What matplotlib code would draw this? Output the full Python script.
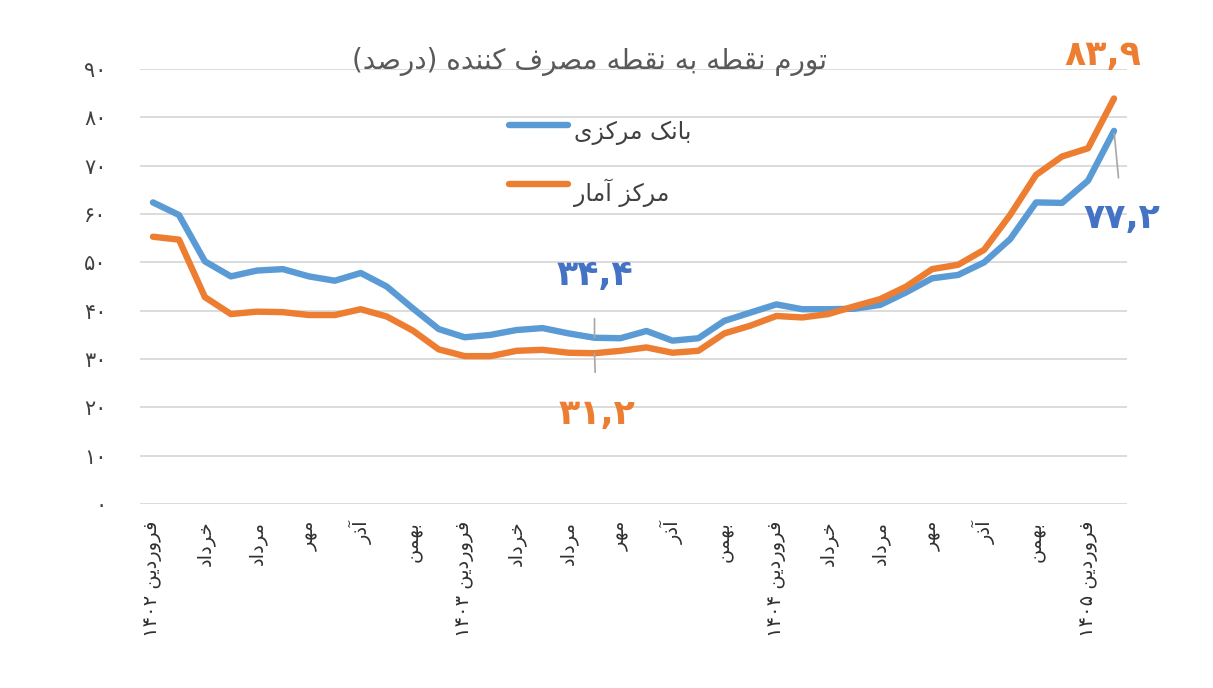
import matplotlib
matplotlib.use("Agg")
import matplotlib.pyplot as plt
from matplotlib.font_manager import findfont, FontProperties
from matplotlib.ft2font import FT2Font

# ---------------- data ----------------
months = ["فروردین ۱۴۰۲", "اردیبهشت", "خرداد", "تیر", "مرداد", "شهریور", "مهر", "آبان", "آذر", "دی", "بهمن", "اسفند",
          "فروردین ۱۴۰۳", "اردیبهشت", "خرداد", "تیر", "مرداد", "شهریور", "مهر", "آبان", "آذر", "دی", "بهمن", "اسفند",
          "فروردین ۱۴۰۴", "اردیبهشت", "خرداد", "تیر", "مرداد", "شهریور", "مهر", "آبان", "آذر", "دی", "بهمن", "اسفند",
          "فروردین ۱۴۰۵", "اردیبهشت"]
bank_markazi = [62.4, 59.8, 50.2, 47.1, 48.3, 48.6, 47.1, 46.2, 47.8, 45.0, 40.5, 36.2,
                34.5, 35.0, 36.0, 36.4, 35.3, 34.4, 34.3, 35.8, 33.8, 34.3, 37.9, 39.6,
                41.3, 40.3, 40.3, 40.4, 41.2, 43.8, 46.7, 47.4, 50.0, 54.8, 62.4, 62.3,
                66.9, 77.2]
markaz_amar = [55.3, 54.7, 42.8, 39.3, 39.8, 39.7, 39.1, 39.1, 40.3, 38.8, 35.9, 32.0,
               30.6, 30.6, 31.7, 31.9, 31.3, 31.2, 31.7, 32.4, 31.3, 31.7, 35.3, 36.9,
               38.9, 38.6, 39.3, 40.9, 42.4, 45.0, 48.6, 49.5, 52.6, 59.8, 68.1, 71.9,
               73.6, 83.9]
series_names = ["بانک مرکزی", "مرکز آمار"]
title = "تورم نقطه به نقطه مصرف کننده (درصد)"
yticks = [0, 10, 20, 30, 40, 50, 60, 70, 80, 90]
label_index = 17
# ----------------------------------------

FONT = "DejaVu Sans"
_ft = FT2Font(findfont(FontProperties(family=FONT)))
def has(ch):
    return _ft.get_char_index(ord(ch)) != 0

FOUR = {'ب': 0xFE8F, 'ت': 0xFE95, 'ث': 0xFE99, 'ج': 0xFE9D, 'ح': 0xFEA1, 'خ': 0xFEA5,
        'س': 0xFEB1, 'ش': 0xFEB5, 'ص': 0xFEB9, 'ض': 0xFEBD, 'ط': 0xFEC1, 'ظ': 0xFEC5,
        'ع': 0xFEC9, 'غ': 0xFECD, 'ف': 0xFED1, 'ق': 0xFED5, 'ل': 0xFEDD, 'م': 0xFEE1,
        'ن': 0xFEE5, 'ه': 0xFEE9, 'ي': 0xFEF1, 'ك': 0xFED9,
        'پ': 0xFB56, 'چ': 0xFB7A, 'ک': 0xFB8E, 'گ': 0xFB92, 'ی': 0xFBFC}
TWO = {'ا': 0xFE8D, 'آ': 0xFE81, 'د': 0xFEA9, 'ذ': 0xFEAB, 'ر': 0xFEAD, 'ز': 0xFEAF,
       'و': 0xFEED, 'ژ': 0xFB8A}
FORMS = {}
for k, b in FOUR.items():
    FORMS[k] = tuple(chr(b + i) for i in range(4))
for k, b in TWO.items():
    FORMS[k] = (chr(b), chr(b + 1), None, None)
# fallbacks
if not all(has(c) for c in FORMS['ی']):
    FORMS['ی'] = ('\uFEEF', '\uFEF0', '\uFEF3', '\uFEF4')
if not all(has(c) for c in FORMS['ک']):
    FORMS['ک'] = FORMS['ك']
NONJOIN = set(TWO.keys())

def shape_word(w):
    out = []
    for i, ch in enumerate(w):
        if ch not in FORMS:
            out.append(ch)
            continue
        prev = w[i - 1] if i > 0 else None
        nxt = w[i + 1] if i + 1 < len(w) else None
        jp = prev in FORMS and prev not in NONJOIN
        jn = nxt in FORMS and ch not in NONJOIN
        iso, fin, ini, med = FORMS[ch]
        out.append(med if jp and jn else fin if jp else ini if jn else iso)
    return ''.join(out)

def fa(text):
    toks = []
    for t in text.split(' '):
        if any(c in FORMS for c in t):
            s = shape_word(t)[::-1]
            s = s.translate(str.maketrans('()', ')('))
            toks.append(s)
        else:
            toks.append(t)
    return ' '.join(toks[::-1])

def fa_num(v):
    s = f"{v:.1f}".replace('.', ',')
    return s.translate(str.maketrans('0123456789', '۰۱۲۳۴۵۶۷۸۹'))

def fa_int(v):
    return str(v).translate(str.maketrans('0123456789', '۰۱۲۳۴۵۶۷۸۹'))

plt.rcParams['font.family'] = [FONT]

BLUE = '#5B9BD5'
ORANGE = '#ED7D31'
BLUE_TXT = '#4472C4'
GRID = '#D9D9D9'

fig = plt.figure(figsize=(12.13, 6.88), dpi=100)
ax = fig.add_axes([0.1154, 0.2674, 0.8137, 0.6323])
x = list(range(len(months)))

ax.plot(x, bank_markazi, color=BLUE, lw=4.6, solid_capstyle='round', solid_joinstyle='round',
        label=fa(series_names[0]), zorder=3)
ax.plot(x, markaz_amar, color=ORANGE, lw=4.6, solid_capstyle='round', solid_joinstyle='round',
        label=fa(series_names[1]), zorder=4)

ax.set_xlim(-0.5, len(months) - 0.5)
ax.set_ylim(0, 90)
ax.set_yticks(yticks)
ax.set_yticklabels([fa_int(v) for v in yticks], fontsize=15, color='#404040')
tick_pos = x[::2]
ax.set_xticks(tick_pos)
ax.set_xticklabels([fa(months[i]) for i in tick_pos], rotation=90, fontsize=14,
                   color='#303030', va='top', ha='center')
ax.tick_params(axis='y', length=0, pad=24)
ax.tick_params(axis='x', length=0, pad=12)
for s in ax.spines.values():
    s.set_visible(False)
ax.grid(axis='y', color=GRID, lw=1.3)
ax.set_axisbelow(True)

leg = ax.legend(loc='upper left', bbox_to_anchor=(0.352, 0.945), frameon=False, fontsize=17,
                handlelength=2.5, handletextpad=0.25, labelspacing=1.3, labelcolor='#404040')
for t in leg.get_texts():
    t.set_va('center')

fig.text(590 / 1213, 1 - 61 / 688, fa(title), ha='center', va='center', fontsize=20, color='#595959')

lead = dict(arrowstyle='-', color='#A6A6A6', lw=1.2)
last = len(months) - 1
ax.annotate(fa_num(markaz_amar[last]), xy=(last, markaz_amar[last]), xytext=(-8, 31),
            textcoords='offset points', ha='center', va='center', fontsize=25, fontweight='bold',
            color=ORANGE, zorder=5)
ax.annotate(fa_num(bank_markazi[last]), xy=(last, bank_markazi[last]), xytext=(6, -63),
            textcoords='offset points', ha='center', va='center', fontsize=25, fontweight='bold',
            color=BLUE_TXT, arrowprops=dict(lead, shrinkA=15, shrinkB=2), zorder=5)
ax.annotate(fa_num(bank_markazi[label_index]), xy=(label_index, bank_markazi[label_index]), xytext=(0, 45),
            textcoords='offset points', ha='center', va='center', fontsize=25, fontweight='bold',
            color=BLUE_TXT, arrowprops=dict(lead, shrinkA=17, shrinkB=0), zorder=5)
ax.annotate(fa_num(markaz_amar[label_index]), xy=(label_index, markaz_amar[label_index]), xytext=(1.5, -44),
            textcoords='offset points', ha='center', va='center', fontsize=25, fontweight='bold',
            color=ORANGE, arrowprops=dict(lead, shrinkA=16, shrinkB=0), zorder=5)

fig.savefig('out.png', dpi=100, facecolor='white')
